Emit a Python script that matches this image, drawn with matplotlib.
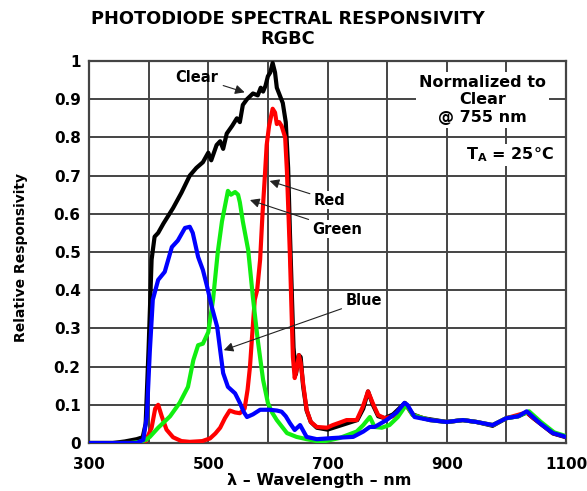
import matplotlib
matplotlib.use("Agg")
import matplotlib.pyplot as plt
import numpy as np

plt.rcParams['font.family'] = ['DejaVu Sans']
plt.rcParams['mathtext.fontset'] = 'custom'
plt.rcParams['mathtext.rm'] = 'DejaVu Sans'
plt.rcParams['mathtext.bf'] = 'DejaVu Sans:bold'

# ---- data ----
clear_nm = [300, 340, 360, 380, 390, 395, 400, 405, 410, 416, 425, 441, 455, 469, 480, 491, 500, 505,
            514, 520, 525, 531, 540, 548, 553, 558, 565, 575, 583, 588, 592, 596, 600, 604, 608, 612,
            615, 620, 625, 630, 634, 637, 640, 643, 647, 652, 655, 659, 665, 672, 682, 700, 720, 740,
            750, 760, 768, 776, 785, 796, 810, 820, 830, 843, 860, 880, 900, 927, 950, 977, 1000, 1020,
            1034, 1045, 1056, 1078, 1100]
clear_val = [0, 0, 0.004, 0.01, 0.015, 0.05, 0.25, 0.48, 0.54, 0.55, 0.575, 0.615, 0.655, 0.70, 0.72,
             0.735, 0.76, 0.74, 0.78, 0.79, 0.77, 0.81, 0.83, 0.85, 0.84, 0.885, 0.90, 0.915, 0.91,
             0.93, 0.92, 0.935, 0.96, 0.97, 0.995, 0.97, 0.93, 0.91, 0.89, 0.84, 0.72, 0.55, 0.40,
             0.25, 0.18, 0.23, 0.225, 0.15, 0.085, 0.055, 0.04, 0.035, 0.045, 0.055, 0.06, 0.09,
             0.135, 0.10, 0.07, 0.065, 0.075, 0.09, 0.105, 0.075, 0.065, 0.06, 0.055, 0.06, 0.055,
             0.045, 0.065, 0.07, 0.08, 0.065, 0.052, 0.025, 0.015]

red_nm = [300, 380, 395, 405, 411, 416, 422, 430, 441, 455, 469, 490, 503, 512, 520, 528, 536, 545,
          553, 561, 566, 570, 574, 578, 582, 587, 591, 595, 598, 602, 608, 612, 615, 619, 623, 629,
          632, 635, 637, 640, 642, 645, 648, 652, 655, 659, 665, 672, 682, 699, 709, 720, 732, 749,
          759, 768, 776, 785, 796, 810, 820, 830, 843, 872, 900, 927, 950, 977, 1000, 1034, 1056,
          1078, 1100]
red_val = [0, 0, 0.005, 0.04, 0.09, 0.10, 0.07, 0.035, 0.015, 0.005, 0.003, 0.005, 0.012, 0.025,
           0.04, 0.065, 0.085, 0.08, 0.078, 0.09, 0.14, 0.20, 0.29, 0.375, 0.40, 0.48, 0.60, 0.70,
           0.78, 0.83, 0.875, 0.865, 0.835, 0.84, 0.83, 0.80, 0.71, 0.58, 0.49, 0.33, 0.225, 0.17,
           0.19, 0.23, 0.21, 0.157, 0.087, 0.055, 0.042, 0.04, 0.047, 0.053, 0.06, 0.06, 0.094,
           0.135, 0.104, 0.073, 0.065, 0.07, 0.085, 0.103, 0.073, 0.06, 0.055, 0.06, 0.055, 0.047,
           0.065, 0.08, 0.052, 0.026, 0.016]

green_nm = [300, 370, 385, 395, 402, 416, 436, 452, 466, 475, 483, 491, 500, 508, 516, 523, 528, 533,
            538, 545, 550, 553, 558, 567, 575, 583, 592, 600, 607, 615, 632, 648, 665, 690, 720, 749,
            760, 771, 779, 791, 804, 818, 832, 843, 872, 900, 927, 950, 977, 1000, 1020, 1038, 1058,
            1080, 1100]
green_val = [0, 0, 0.003, 0.008, 0.016, 0.04, 0.07, 0.105, 0.147, 0.217, 0.256, 0.26, 0.29, 0.375,
             0.50, 0.58, 0.62, 0.66, 0.65, 0.657, 0.65, 0.63, 0.58, 0.505, 0.38, 0.27, 0.165, 0.105,
             0.08, 0.06, 0.026, 0.016, 0.01, 0.003, 0.013, 0.03, 0.047, 0.068, 0.042, 0.04, 0.047,
             0.068, 0.10, 0.073, 0.06, 0.055, 0.06, 0.055, 0.047, 0.065, 0.07, 0.083, 0.055, 0.028,
             0.018]

blue_nm = [300, 380, 391, 397, 402, 407, 416, 427, 439, 449, 461, 469, 474, 483, 491, 498, 506, 515,
           520, 525, 533, 545, 553, 560, 565, 575, 587, 603, 615, 623, 630, 637, 645, 654, 660, 665,
           682, 709, 743, 760, 771, 779, 799, 816, 829, 834, 846, 872, 900, 927, 950, 977, 1000, 1020,
           1034, 1056, 1078, 1100]
blue_val = [0, 0, 0.008, 0.07, 0.24, 0.375, 0.427, 0.448, 0.513, 0.53, 0.563, 0.566, 0.55, 0.487,
            0.453, 0.41, 0.356, 0.304, 0.243, 0.183, 0.147, 0.13, 0.105, 0.08, 0.068, 0.075, 0.087,
            0.087, 0.085, 0.082, 0.07, 0.052, 0.034, 0.047, 0.03, 0.016, 0.01, 0.013, 0.016, 0.03,
            0.042, 0.042, 0.06, 0.08, 0.105, 0.10, 0.068, 0.06, 0.055, 0.06, 0.055, 0.047, 0.065,
            0.07, 0.083, 0.052, 0.026, 0.016]

x_ticks = [300, 500, 700, 900, 1100]
y_ticks = [0, 0.1, 0.2, 0.3, 0.4, 0.5, 0.6, 0.7, 0.8, 0.9, 1]
y_ticklabels = ['0', '0.1', '0.2', '0.3', '0.4', '0.5', '0.6', '0.7', '0.8', '0.9', '1']

fig = plt.figure(figsize=(5.87, 4.91), dpi=100)
ax = fig.add_axes([89/587, 1 - 443/491, (566 - 89)/587, (443 - 61)/491])

ax.set_xlim(300, 1100)
ax.set_ylim(0, 1)
ax.set_xticks(x_ticks)
ax.set_xticks(np.arange(400, 1100, 200), minor=True)
ax.set_yticks(y_ticks)
ax.set_yticklabels(y_ticklabels)
ax.grid(True, which='both', color='#444444', lw=1.4)
ax.tick_params(which='both', length=0, labelsize=11)
ax.tick_params(axis='x', pad=10)
ax.tick_params(axis='y', pad=6)
for lab in ax.get_xticklabels() + ax.get_yticklabels():
    lab.set_fontweight('bold')
for s in ax.spines.values():
    s.set_color('#444444')
    s.set_linewidth(1.6)
ax.set_axisbelow(True)

lw = 3.0
ax.plot(clear_nm, clear_val, color='black', lw=lw, zorder=3)
ax.plot(red_nm, red_val, color='#ff0000', lw=lw, zorder=4)
ax.plot(green_nm, green_val, color='#11ee11', lw=lw, zorder=5)
ax.plot(blue_nm, blue_val, color='#0000ff', lw=lw, zorder=6)

arrow = dict(arrowstyle='-|>', lw=0.8, color='#222222', mutation_scale=14, shrinkA=2, shrinkB=0)
bb = dict(boxstyle='square,pad=0.1', fc='white', ec='none')
ax.annotate('Clear', xy=(561, 0.918), xytext=(480, 0.958), ha='center', va='center',
            fontsize=10.5, fontweight='bold', arrowprops=arrow, zorder=8)
ax.annotate('Red', xy=(603, 0.686), xytext=(704, 0.636), ha='center', va='center',
            fontsize=10.5, fontweight='bold', arrowprops=arrow, bbox=bb, zorder=8)
ax.annotate('Green', xy=(570, 0.636), xytext=(717, 0.56), ha='center', va='center',
            fontsize=10.5, fontweight='bold', arrowprops=arrow, bbox=bb, zorder=8)
ax.annotate('Blue', xy=(526, 0.243), xytext=(761, 0.372), ha='center', va='center',
            fontsize=10.5, fontweight='bold', arrowprops=arrow, bbox=bb, zorder=8)

ax.text(960, 0.898, 'Normalized to\nClear\n@ 755 nm', ha='center', va='center',
        fontsize=11.5, fontweight='bold', linespacing=1.2,
        bbox=dict(boxstyle='square,pad=0.2', fc='white', ec='none'), zorder=8)
ax.text(1006, 0.754, r'T$_{\mathbf{A}}$ = 25°C', ha='center', va='center',
        fontsize=11.5, fontweight='bold',
        bbox=dict(boxstyle='square,pad=0.12', fc='white', ec='none'), zorder=8)

fig.text(288/587, 1 - 19/491, 'PHOTODIODE SPECTRAL RESPONSIVITY', ha='center', va='center',
         fontsize=12.8, fontweight='bold')
fig.text(288/587, 1 - 39/491, 'RGBC', ha='center', va='center', fontsize=12.8, fontweight='bold')

fig.text(319/587, 1 - 481/491, 'λ – Wavelength – nm', ha='center', va='center',
         fontsize=11.5, fontweight='bold')
fig.text(21/587, 1 - 258/491, 'Relative Responsivity', ha='center', va='center', rotation=90,
         fontsize=10, fontweight='bold')

fig.savefig('out.png', dpi=100)
